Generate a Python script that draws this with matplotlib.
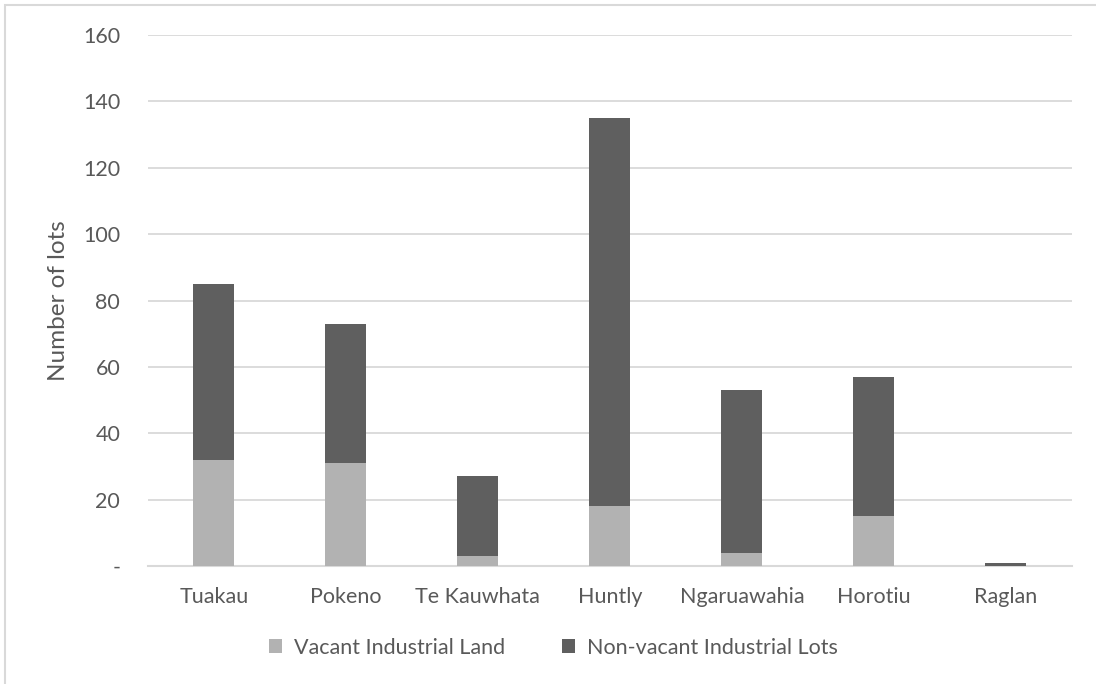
import numpy as np
import matplotlib.pyplot as plt
from matplotlib.patches import Rectangle

towns = ['Tuakau', 'Pokeno', 'Te Kauwhata', 'Huntly', 'Ngaruawahia', 'Horotiu', 'Raglan']
vacant = [32, 31, 3, 18, 4, 15, 0]
non_vacant = [53, 42, 24, 117, 49, 42, 1]

y_ticks = [0, 20, 40, 60, 80, 100, 120, 140, 160]
y_tick_labels = ['-', '20', '40', '60', '80', '100', '120', '140', '160']

TEXT = '#595959'
GRID = '#d9d9d9'

plt.rcParams['font.family'] = ['Lato', 'DejaVu Sans']

fig = plt.figure(figsize=(10.96, 6.84), dpi=100)
ax = fig.add_axes([0.135, 0.1725, 0.843, 0.7763])

x = np.arange(len(towns))
width = 0.31
ax.bar(x, vacant, width, color='#b2b2b2', label='Vacant Industrial Land', zorder=3)
ax.bar(x, non_vacant, width, bottom=vacant, color='#5f5f5f',
       label='Non-vacant Industrial Lots', zorder=3)

ax.set_xlim(-0.5, len(towns) - 0.5)
ax.set_ylim(0, 160)
ax.set_yticks(y_ticks)
ax.set_yticklabels(y_tick_labels)
ax.set_xticks(x)
ax.set_xticklabels(towns)
ax.tick_params(axis='both', length=0, labelsize=15.5, colors=TEXT)
ax.tick_params(axis='y', pad=20)
ax.tick_params(axis='x', pad=15)

ax.yaxis.grid(True, color=GRID, linewidth=1.3, zorder=0)
for side in ['top', 'right', 'left']:
    ax.spines[side].set_visible(False)
ax.spines['bottom'].set_color(GRID)
ax.spines['bottom'].set_linewidth(1.5)

ax.set_ylabel('Number of lots', fontsize=17.5, color=TEXT, labelpad=10)

fig.legend(loc='center', bbox_to_anchor=(0.505, 0.053), ncol=2, frameon=False,
           fontsize=15.5, labelcolor=TEXT, handlelength=0.6, handleheight=0.6,
           columnspacing=2.6, handletextpad=0.6)

# light frame around the chart area
fig.patches.append(Rectangle((5 / 1096, -0.1), 1.2, (684 - 5) / 684 + 0.1,
                             transform=fig.transFigure, fill=False,
                             edgecolor=GRID, linewidth=1.5))

fig.savefig('out.png', dpi=100)
